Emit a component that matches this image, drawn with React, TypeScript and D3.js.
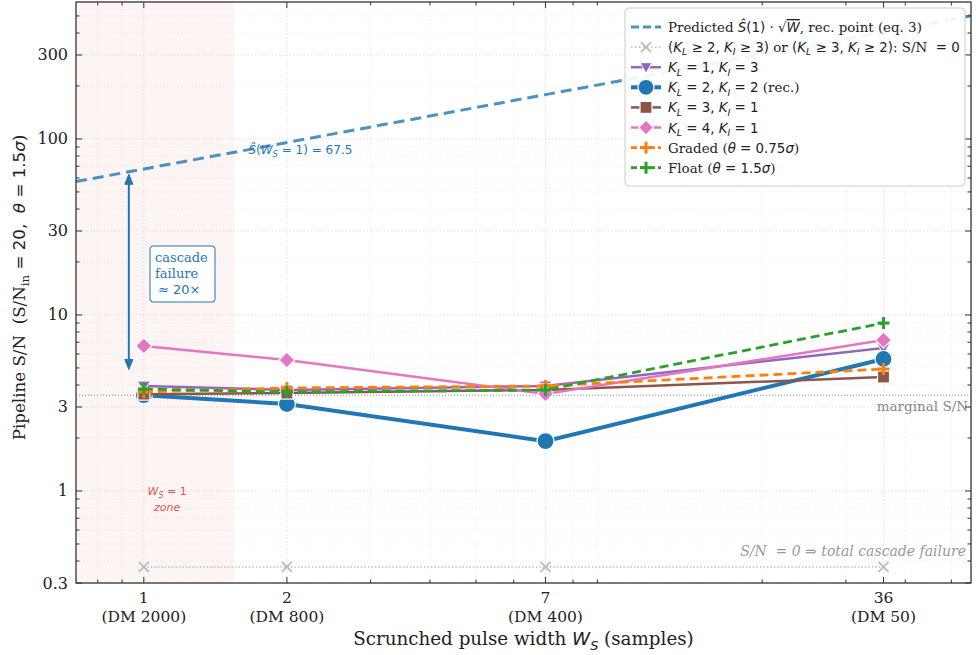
import React from "react";
import * as d3 from "d3";

const width = 976;
const height = 655;
const margin = { left: 76, right: 5, top: 2, bottom: 72 };

// data
const widths = [1, 2, 7, 36];
const dmLabels = ["(DM 2000)", "(DM 800)", "(DM 400)", "(DM 50)"];
const predictedS1 = 67.5;
const snK1I3 = [3.95, 3.75, 3.95, 6.5];
const snK2I2 = [3.5, 3.12, 1.92, 5.62];
const snK3I1 = [3.55, 3.6, 3.75, 4.44];
const snK4I1 = [6.67, 5.55, 3.56, 7.2];
const snGraded = [3.65, 3.85, 3.95, 4.93];
const snFloat = [3.8, 3.65, 3.75, 9.0];
const snZeroPlot = [0.37, 0.37, 0.37, 0.37];
const marginalSN = 3.5;
const yTicks = [0.3, 1, 3, 10, 30, 100, 300];
const yTickLabels = ["0.3", "1", "3", "10", "30", "100", "300"];

const xDomain = [0.72, 55];
const yDomain = [0.3, 600];
const zoneEnd = 1.55;

const SERIF = "DejaVu Serif";
const SANS = "DejaVu Sans";
const blue = "#1f77b4";

type Seg = { t: string; it?: boolean; sub?: boolean; sans?: boolean; over?: boolean };

function Rich({ segs, x, y, size, fill, anchor }: { segs: Seg[]; x: number; y: number; size: number; fill: string; anchor?: string }) {
  const out: any[] = [];
  let shift = 0;
  segs.forEach((s, i) => {
    const dy = s.sub ? size * 0.25 - shift : -shift;
    shift = s.sub ? size * 0.25 : 0;
    out.push(
      <tspan
        key={i}
        dy={dy}
        fontFamily={s.sans || s.it ? SANS : SERIF}
        fontStyle={s.it ? "italic" : "normal"}
        fontSize={s.sub ? size * 0.7 : size}
        textDecoration={s.over ? "overline" : undefined}
      >
        {s.t}
      </tspan>
    );
  });
  return (
    <text x={x} y={y} fill={fill} fontSize={size} textAnchor={anchor || "start"} style={{ whiteSpace: "pre" }}>
      {out}
    </text>
  );
}

function Marker({ type, x, y, color, size }: { type: string; x: number; y: number; color: string; size: number }) {
  const s = size;
  if (type === "circle") return <circle cx={x} cy={y} r={s} fill={color} stroke="white" strokeWidth={1.2} />;
  if (type === "square") return <rect x={x - s} y={y - s} width={2 * s} height={2 * s} fill={color} stroke="white" strokeWidth={1.2} />;
  if (type === "diamond")
    return <path d={`M${x},${y - s}L${x + s},${y}L${x},${y + s}L${x - s},${y}Z`} fill={color} stroke="white" strokeWidth={1.2} />;
  if (type === "tri")
    return <path d={`M${x - s},${y - s * 0.75}L${x + s},${y - s * 0.75}L${x},${y + s}Z`} fill={color} stroke="white" strokeWidth={1} />;
  if (type === "plus")
    return (
      <g stroke={color} strokeWidth={3}>
        <line x1={x - s} x2={x + s} y1={y} y2={y} />
        <line x1={x} x2={x} y1={y - s} y2={y + s} />
      </g>
    );
  if (type === "x")
    return (
      <g stroke={color} strokeWidth={1.8}>
        <line x1={x - s} x2={x + s} y1={y - s} y2={y + s} />
        <line x1={x - s} x2={x + s} y1={y + s} y2={y - s} />
      </g>
    );
  return null;
}

const series = [
  { key: "k13", vals: snK1I3, color: "#9467bd", lw: 2.5, dash: undefined, marker: "tri", ms: 6.5 },
  { key: "k22", vals: snK2I2, color: blue, lw: 4, dash: undefined, marker: "circle", ms: 8.5 },
  { key: "k31", vals: snK3I1, color: "#8c564b", lw: 2.5, dash: undefined, marker: "square", ms: 6 },
  { key: "k41", vals: snK4I1, color: "#e377c2", lw: 2.5, dash: undefined, marker: "diamond", ms: 8 },
  { key: "graded", vals: snGraded, color: "#ff7f0e", lw: 2.8, dash: "9,5", marker: "plus", ms: 6 },
  { key: "float", vals: snFloat, color: "#2ca02c", lw: 2.8, dash: "9,5", marker: "plus", ms: 6 },
];

const legendItems: { segs: Seg[]; color: string; dash?: string; marker?: string; lw: number; ms?: number; opacity?: number }[] = [
  {
    segs: [
      { t: "Predicted " },
      { t: "Ŝ", it: true },
      { t: "(1) · √", sans: true },
      { t: "W", it: true, over: true },
      { t: ", rec. point (eq. 3)" },
    ],
    color: blue, dash: "8,4", lw: 3, opacity: 0.8,
  },
  {
    segs: [
      { t: "(", sans: true }, { t: "K", it: true }, { t: "L", it: true, sub: true }, { t: " ≥ 2, ", sans: true },
      { t: "K", it: true }, { t: "I", it: true, sub: true }, { t: " ≥ 3)", sans: true }, { t: " or " },
      { t: "(", sans: true }, { t: "K", it: true }, { t: "L", it: true, sub: true }, { t: " ≥ 3, ", sans: true },
      { t: "K", it: true }, { t: "I", it: true, sub: true }, { t: " ≥ 2)", sans: true }, { t: ": S/N " }, { t: " = 0", sans: true },
    ],
    color: "#bbbbbb", dash: "1.5,2.5", marker: "x", lw: 1.5, ms: 5,
  },
  { segs: [{ t: "K", it: true }, { t: "L", it: true, sub: true }, { t: " = 1, ", sans: true }, { t: "K", it: true }, { t: "I", it: true, sub: true }, { t: " = 3", sans: true }], color: "#9467bd", marker: "tri", lw: 2.5, ms: 6 },
  { segs: [{ t: "K", it: true }, { t: "L", it: true, sub: true }, { t: " = 2, ", sans: true }, { t: "K", it: true }, { t: "I", it: true, sub: true }, { t: " = 2", sans: true }, { t: " (rec.)" }], color: blue, marker: "circle", lw: 4, ms: 8 },
  { segs: [{ t: "K", it: true }, { t: "L", it: true, sub: true }, { t: " = 3, ", sans: true }, { t: "K", it: true }, { t: "I", it: true, sub: true }, { t: " = 1", sans: true }], color: "#8c564b", marker: "square", lw: 2.5, ms: 6 },
  { segs: [{ t: "K", it: true }, { t: "L", it: true, sub: true }, { t: " = 4, ", sans: true }, { t: "K", it: true }, { t: "I", it: true, sub: true }, { t: " = 1", sans: true }], color: "#e377c2", marker: "diamond", lw: 2.5, ms: 7.5 },
  { segs: [{ t: "Graded (" }, { t: "θ", it: true }, { t: " = 0.75", sans: true }, { t: "σ", it: true }, { t: ")" }], color: "#ff7f0e", dash: "6,3", marker: "plus", lw: 2.8, ms: 6 },
  { segs: [{ t: "Float (" }, { t: "θ", it: true }, { t: " = 1.5", sans: true }, { t: "σ", it: true }, { t: ")" }], color: "#2ca02c", dash: "6,3", marker: "plus", lw: 2.8, ms: 6 },
];

export default function App() {
  const x = d3.scaleLog().domain(xDomain).range([margin.left, width - margin.right]);
  const y = d3.scaleLog().domain(yDomain).range([height - margin.bottom, margin.top]);
  const [x0, x1] = x.range();
  const [y0, y1] = [y.range()[1], y.range()[0]];

  const xMinor = [0.8, 0.9, 3, 4, 5, 6, 8, 9, 20, 30, 40, 50];
  const yMinor: number[] = [];
  [0.1, 1, 10, 100].forEach((dec) => {
    for (let k = 2; k <= 9; k++) {
      const v = dec * k;
      if (v > yDomain[0] && v < yDomain[1] && !yTicks.includes(+v.toFixed(3))) yMinor.push(v);
    }
  });

  const line = d3
    .line<number>()
    .x((_, i) => x(widths[i]))
    .y((d) => y(d));

  const predLine = d3
    .line<number>()
    .x((w) => x(w))
    .y((w) => y(predictedS1 * Math.sqrt(w)));

  const arrowX = x(0.93);
  const arrowTop = y(63);
  const arrowBot = y(4.9);

  return (
    <svg width={width} height={height} style={{ position: "absolute", left: 0, top: 0, background: "white" }}>
      <defs>
        <clipPath id="plot">
          <rect x={x0} y={y0} width={x1 - x0} height={y1 - y0} />
        </clipPath>
      </defs>

      {/* W_S = 1 zone */}
      <rect x={x0} y={y0} width={x(zoneEnd) - x0} height={y1 - y0} fill="#d62728" opacity={0.05} />

      {/* grid */}
      <g strokeDasharray="1.5,2">
        {xMinor.map((v) => (
          <line key={"gxm" + v} x1={x(v)} x2={x(v)} y1={y0} y2={y1} stroke="#e8e8e8" strokeWidth={0.7} />
        ))}
        {yMinor.map((v) => (
          <line key={"gym" + v} x1={x0} x2={x1} y1={y(v)} y2={y(v)} stroke="#e8e8e8" strokeWidth={0.7} />
        ))}
        {widths.map((v) => (
          <line key={"gx" + v} x1={x(v)} x2={x(v)} y1={y0} y2={y1} stroke="#d8d8d8" strokeWidth={0.8} />
        ))}
        {yTicks.map((v) => (
          <line key={"gy" + v} x1={x0} x2={x1} y1={y(v)} y2={y(v)} stroke="#d8d8d8" strokeWidth={0.8} />
        ))}
      </g>

      <g clipPath="url(#plot)">
        {/* marginal S/N */}
        <line x1={x0} x2={x1} y1={y(marginalSN)} y2={y(marginalSN)} stroke="#888" strokeWidth={1} strokeDasharray="1,2" />

        {/* predicted */}
        <path
          d={predLine([xDomain[0], xDomain[1]]) || ""}
          fill="none"
          stroke={blue}
          strokeOpacity={0.8}
          strokeWidth={3}
          strokeDasharray="11,6"
        />

        {/* zero S/N configurations */}
        <path d={line(snZeroPlot) || ""} fill="none" stroke="#bbb" strokeWidth={1.5} strokeDasharray="1.5,2" />
        {snZeroPlot.map((v, i) => (
          <Marker key={"z" + i} type="x" x={x(widths[i])} y={y(v)} color="#bbb" size={5} />
        ))}

        {series.map((s) => (
          <g key={s.key}>
            <path d={line(s.vals) || ""} fill="none" stroke={s.color} strokeWidth={s.lw} strokeDasharray={s.dash} />
            {s.vals.map((v, i) => (
              <Marker key={i} type={s.marker} x={x(widths[i])} y={y(v)} color={s.color} size={s.ms} />
            ))}
          </g>
        ))}
      </g>

      {/* annotations */}
      <Rich
        x={x(1.66)}
        y={y(82)}
        size={12}
        fill={blue}
        segs={[{ t: "Ŝ", it: true }, { t: "(", sans: true }, { t: "W", it: true }, { t: "S", it: true, sub: true }, { t: " = 1) = 67.5", sans: true }]}
      />
      <g stroke={blue} fill={blue} strokeWidth={2}>
        <line x1={arrowX} x2={arrowX} y1={arrowTop + 9} y2={arrowBot - 9} />
        <path d={`M${arrowX},${arrowTop}L${arrowX - 4},${arrowTop + 10}L${arrowX + 4},${arrowTop + 10}Z`} strokeWidth={1} />
        <path d={`M${arrowX},${arrowBot}L${arrowX - 4},${arrowBot - 10}L${arrowX + 4},${arrowBot - 10}Z`} strokeWidth={1} />
      </g>
      <rect x={150} y={246} width={65} height={56} rx={3} fill="white" stroke={blue} strokeWidth={1} />
      <g fill={blue} fontFamily={SERIF} fontSize={13}>
        <text x={155} y={262}>cascade</text>
        <text x={155} y={278}>failure</text>
        <text x={158} y={294} fontFamily={SANS}>≈ 20×</text>
      </g>

      <g fill="#d62728" fillOpacity={0.8} fontFamily={SANS} fontStyle="italic" fontSize={11} textAnchor="middle">
        <text x={x(1.12)} y={y(0.95)} style={{ whiteSpace: "pre" }}>
          W<tspan fontSize={8} dy={3}>S</tspan>
          <tspan dy={-3} fontStyle="normal"> = 1</tspan>
        </text>
        <text x={x(1.12)} y={y(0.77)}>zone</text>
      </g>

      <text x={x1 - 3} y={y(3.0) + 4} textAnchor="end" fill="#888" fontFamily={SERIF} fontSize={13.5}>
        marginal S/N
      </text>
      <text x={x1 - 5} y={y(0.425)} textAnchor="end" fill="#999" fontFamily={SERIF} fontStyle="italic" fontSize={14} style={{ whiteSpace: "pre" }}>
        S/N  = 0 ⇒ total cascade failure
      </text>

      {/* spines and ticks */}
      <rect x={x0} y={y0} width={x1 - x0} height={y1 - y0} fill="none" stroke="#333" strokeWidth={1.3} />
      <g stroke="#333" strokeWidth={1}>
        {widths.map((v) => (
          <g key={"tx" + v}>
            <line x1={x(v)} x2={x(v)} y1={y1} y2={y1 - 6} />
            <line x1={x(v)} x2={x(v)} y1={y0} y2={y0 + 6} />
          </g>
        ))}
        {xMinor.map((v) => (
          <g key={"txm" + v}>
            <line x1={x(v)} x2={x(v)} y1={y1} y2={y1 - 3.5} />
            <line x1={x(v)} x2={x(v)} y1={y0} y2={y0 + 3.5} />
          </g>
        ))}
        {yTicks.map((v) => (
          <g key={"ty" + v}>
            <line x1={x0} x2={x0 + 6} y1={y(v)} y2={y(v)} />
            <line x1={x1} x2={x1 - 6} y1={y(v)} y2={y(v)} />
          </g>
        ))}
        {yMinor.map((v) => (
          <g key={"tym" + v}>
            <line x1={x0} x2={x0 + 3.5} y1={y(v)} y2={y(v)} />
            <line x1={x1} x2={x1 - 3.5} y1={y(v)} y2={y(v)} />
          </g>
        ))}
      </g>

      {/* tick labels */}
      <g fontFamily={SERIF} fontSize={16} fill="#222" textAnchor="end">
        {yTicks.map((v, i) => (
          <text key={"yl" + v} x={x0 - 8} y={y(v) + 5.5}>
            {yTickLabels[i]}
          </text>
        ))}
      </g>
      <g fontFamily={SERIF} fontSize={15.5} fill="#222" textAnchor="middle">
        {widths.map((v, i) => (
          <g key={"xl" + v}>
            <text x={x(v)} y={y1 + 20}>{String(v)}</text>
            <text x={x(v)} y={y1 + 39}>{dmLabels[i]}</text>
          </g>
        ))}
      </g>

      {/* axis titles */}
      <Rich
        x={(x0 + x1) / 2}
        y={645}
        size={18.3}
        fill="#222"
        anchor="middle"
        segs={[{ t: "Scrunched pulse width " }, { t: "W", it: true }, { t: "S", it: true, sub: true }, { t: " (samples)" }]}
      />
      <g transform={`translate(25, ${(y0 + y1) / 2 - 5}) rotate(-90)`}>
        <Rich
          x={0}
          y={0}
          size={16.7}
          fill="#222"
          anchor="middle"
          segs={[
            { t: "Pipeline S/N  (S/N" },
            { t: "in", sub: true },
            { t: " = 20,  ", sans: true },
            { t: "θ", it: true },
            { t: " = 1.5", sans: true },
            { t: "σ", it: true },
            { t: ")" },
          ]}
        />
      </g>

      {/* legend */}
      <g>
        <rect x={625} y={8} width={340} height={178} rx={4} fill="white" fillOpacity={0.92} stroke="#ccc" strokeWidth={1} />
        {legendItems.map((it, i) => {
          const ly = 27 + i * 20.1;
          return (
            <g key={"lg" + i}>
              <line x1={631} x2={661} y1={ly} y2={ly} stroke={it.color} strokeWidth={it.lw} strokeDasharray={it.dash} strokeOpacity={it.opacity ?? 1} />
              {it.marker && <Marker type={it.marker} x={646} y={ly} color={it.color} size={it.ms || 6} />}
              <Rich x={668} y={ly + 5} size={13.4} fill="#222" segs={it.segs} />
            </g>
          );
        })}
      </g>
    </svg>
  );
}
